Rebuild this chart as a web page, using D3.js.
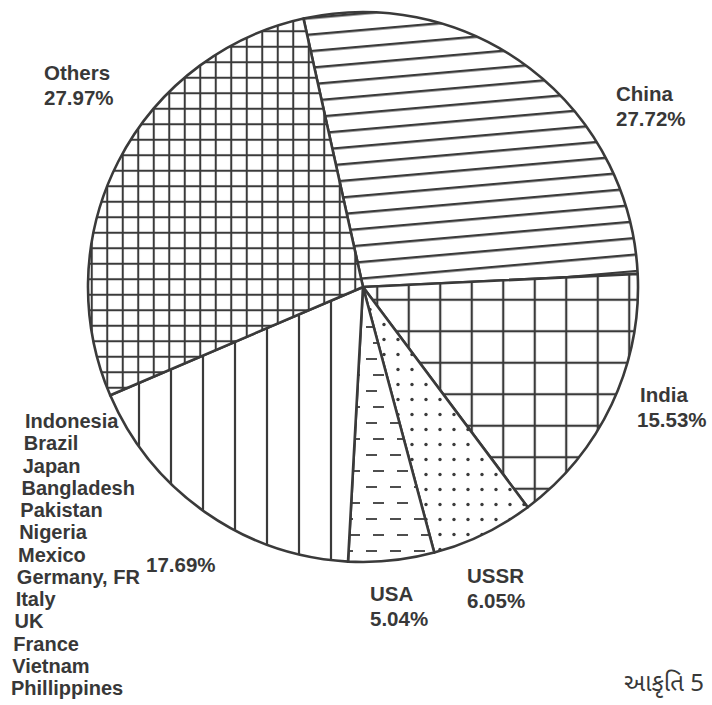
<!DOCTYPE html>
<html>
<head>
<meta charset="utf-8">
<script src="https://cdn.jsdelivr.net/npm/d3@7"></script>
<style>
  html, body { margin: 0; padding: 0; background: #ffffff; }
  svg { display: block; }
  text { font-family: "Liberation Sans", Arial, Helvetica, sans-serif; font-weight: bold; fill: #383838; }
</style>
</head>
<body>
<div id="chart"></div>
<script>
// ---------------- data ----------------
const sliceNames  = ["China", "India", "USSR", "USA", "Rest", "Others"];
const sliceShares = [27.72, 15.53, 6.05, 5.04, 17.69, 27.97];
const sliceLabels = ["China", "India", "USSR", "USA", "", "Others"];
const restCountries = ["Indonesia", "Brazil", "Japan", "Bangladesh", "Pakistan", "Nigeria",
  "Mexico", "Germany, FR", "Italy", "UK", "France", "Vietnam", "Phillippines"];
const figureCaption = "આકૃતિ 5";

// ---------------- layout ----------------
const W = 712, H = 705;
const cx = 363, cy = 287, R = 275;
const startDeg = -12.5;
const ink = "#3a3a3a";
const fontSize = 20.5;
const lw = 2.2;

const labelPos = {
  China:  { x: 616, y: 101 },
  India:  { x: 640, y: 402 },
  USSR:   { x: 467, y: 583 },
  USA:    { x: 370, y: 601 },
  Rest:   { x: 146, y: 572 },
  Others: { x: 44,  y: 80 }
};
const lineGap = 25;

const svg = d3.select("#chart").append("svg")
  .attr("width", W).attr("height", H);

svg.append("rect").attr("width", W).attr("height", H).attr("fill", "#ffffff");

const defs = svg.append("defs");

// China: tilted horizontal lines
const pChina = defs.append("pattern").attr("id", "p-China")
  .attr("patternUnits", "userSpaceOnUse").attr("width", 60).attr("height", 16.5)
  .attr("patternTransform", "rotate(-5)");
pChina.append("rect").attr("width", 60).attr("height", 16.5).attr("fill", "#fff");
pChina.append("line").attr("x1", 0).attr("x2", 60).attr("y1", 8).attr("y2", 8)
  .attr("stroke", ink).attr("stroke-width", lw);

// India: coarse grid
const pIndia = defs.append("pattern").attr("id", "p-India")
  .attr("patternUnits", "userSpaceOnUse").attr("width", 31.5).attr("height", 31.5)
  .attr("x", -1.5).attr("y", -3);
pIndia.append("rect").attr("width", 31.5).attr("height", 31.5).attr("fill", "#fff");
pIndia.append("line").attr("x1", 15.75).attr("x2", 15.75).attr("y1", 0).attr("y2", 31.5)
  .attr("stroke", ink).attr("stroke-width", lw);
pIndia.append("line").attr("x1", 0).attr("x2", 31.5).attr("y1", 15.75).attr("y2", 15.75)
  .attr("stroke", ink).attr("stroke-width", lw);

// USSR: dots
const pUSSR = defs.append("pattern").attr("id", "p-USSR")
  .attr("patternUnits", "userSpaceOnUse").attr("width", 14).attr("height", 15);
pUSSR.append("rect").attr("width", 14).attr("height", 15).attr("fill", "#fff");
pUSSR.append("circle").attr("cx", 7).attr("cy", 7.5).attr("r", 1.7).attr("fill", ink);

// USA: short dashes
const pUSA = defs.append("pattern").attr("id", "p-USA")
  .attr("patternUnits", "userSpaceOnUse").attr("width", 24).attr("height", 32);
pUSA.append("rect").attr("width", 24).attr("height", 32).attr("fill", "#fff");
pUSA.append("line").attr("x1", 3).attr("x2", 14).attr("y1", 8).attr("y2", 8)
  .attr("stroke", ink).attr("stroke-width", 1.8);
pUSA.append("line").attr("x1", 10).attr("x2", 21).attr("y1", 24).attr("y2", 24)
  .attr("stroke", ink).attr("stroke-width", 1.8);

// Rest: vertical lines
const pRest = defs.append("pattern").attr("id", "p-Rest")
  .attr("patternUnits", "userSpaceOnUse").attr("width", 32).attr("height", 40)
  .attr("x", -16);
pRest.append("rect").attr("width", 32).attr("height", 40).attr("fill", "#fff");
pRest.append("line").attr("x1", 16).attr("x2", 16).attr("y1", 0).attr("y2", 40)
  .attr("stroke", ink).attr("stroke-width", lw);

// Others: fine grid
const pOthers = defs.append("pattern").attr("id", "p-Others")
  .attr("patternUnits", "userSpaceOnUse").attr("width", 15.5).attr("height", 15.5);
pOthers.append("rect").attr("width", 15.5).attr("height", 15.5).attr("fill", "#fff");
pOthers.append("line").attr("x1", 7.75).attr("x2", 7.75).attr("y1", 0).attr("y2", 15.5)
  .attr("stroke", ink).attr("stroke-width", 2);
pOthers.append("line").attr("x1", 0).attr("x2", 15.5).attr("y1", 7.75).attr("y2", 7.75)
  .attr("stroke", ink).attr("stroke-width", 2);

// ---------------- pie ----------------
const data = sliceNames.map((n, i) => ({ name: n, value: sliceShares[i], label: sliceLabels[i] }));
const start = startDeg * Math.PI / 180;
const pie = d3.pie().value(d => d.value).sort(null)
  .startAngle(start).endAngle(start + 2 * Math.PI);
const arc = d3.arc().innerRadius(0).outerRadius(R);

const g = svg.append("g").attr("transform", `translate(${cx},${cy})`);
g.selectAll("path.slice").data(pie(data)).join("path")
  .attr("class", "slice")
  .attr("d", arc)
  .attr("fill", d => `url(#p-${d.data.name})`)
  .attr("stroke", ink)
  .attr("stroke-width", 2.6)
  .attr("stroke-linejoin", "round");

// ---------------- labels ----------------
const fmt = v => v.toFixed(2) + "%";
const lab = svg.append("g").style("font-size", fontSize + "px");
data.forEach(d => {
  const p = labelPos[d.name];
  if (d.label) {
    lab.append("text").attr("x", p.x).attr("y", p.y).text(d.label);
    lab.append("text").attr("x", p.x - (d.name === "India" ? 3 : 0))
      .attr("y", p.y + lineGap).text(fmt(d.value));
  } else {
    lab.append("text").attr("x", p.x).attr("y", p.y).text(fmt(d.value));
  }
});

// list of countries in the "Rest" slice
const listY = d3.scaleLinear().domain([0, restCountries.length - 1]).range([428, 695]);
const listX = d3.scaleLinear().domain([0, restCountries.length - 1]).range([25, 11]);
lab.selectAll("text.country").data(restCountries).join("text")
  .attr("class", "country")
  .attr("x", (d, i) => listX(i))
  .attr("y", (d, i) => listY(i))
  .style("font-size", "20px")
  .text(d => d);

// caption
svg.append("text").attr("x", 624).attr("y", 691)
  .style("font-size", "24px").style("font-weight", "normal")
  .style("font-family", "'Noto Sans Gujarati', 'Noto Sans', sans-serif")
  .text(figureCaption);
</script>
</body>
</html>
